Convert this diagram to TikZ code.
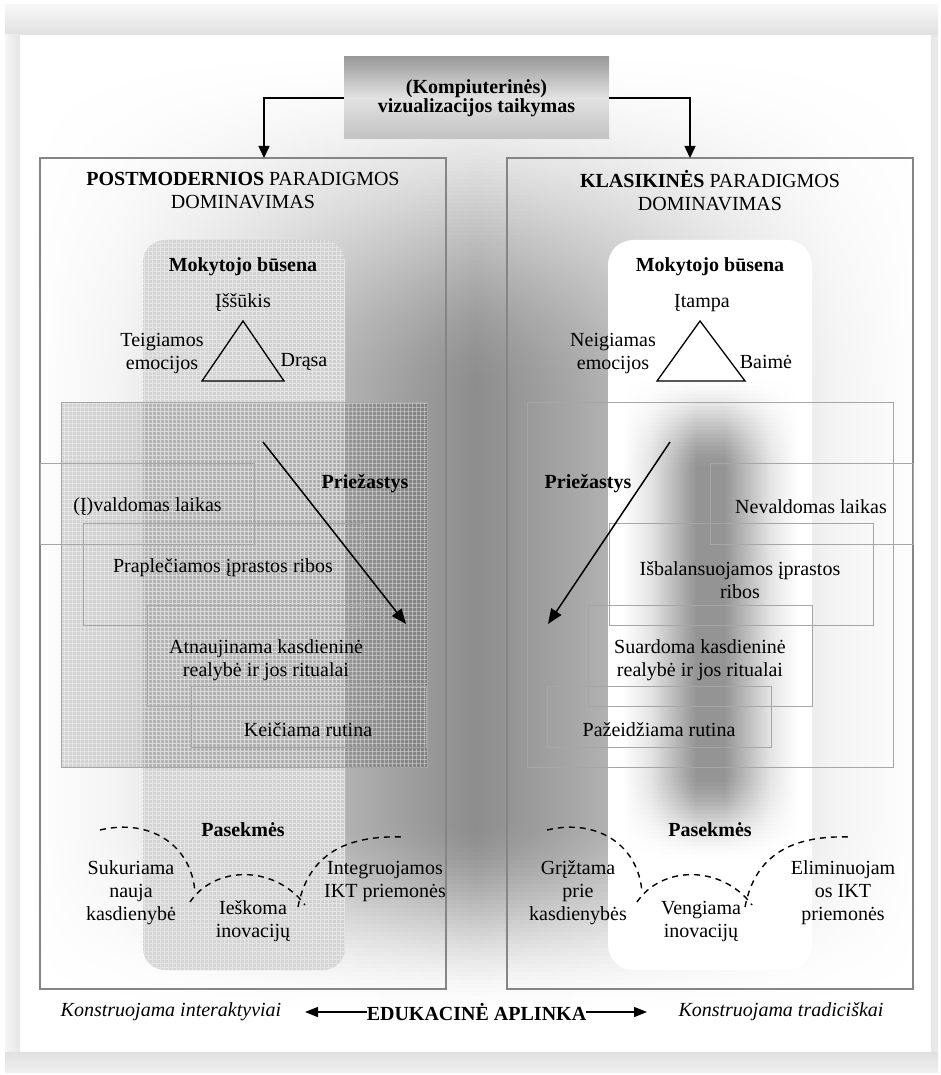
\documentclass[tikz,border=0pt]{standalone}
\usepackage{fontspec}
\setmainfont{Liberation Serif}
\usetikzlibrary{arrows.meta,patterns}

\definecolor{boxgray}{HTML}{858585}
\definecolor{cellgray}{HTML}{A6A6A6}
\definecolor{titletop}{HTML}{9A9A9A}
\definecolor{titlemid}{HTML}{E2E2E2}
\definecolor{titlebot}{HTML}{C2C2C2}
\definecolor{meshbase}{HTML}{D2D2D2}
\definecolor{meshline}{HTML}{E4E4E4}
\colorlet{glowc}{black!45}
\colorlet{colc}{black!45}

% fine square mesh used for the shaded panels
\pgfdeclarepatternformonly{finegrid}{\pgfqpoint{-1pt}{-1pt}}{\pgfqpoint{4pt}{4pt}}{\pgfqpoint{4pt}{4pt}}{%
  \pgfsetlinewidth{0.5pt}%
  \pgfpathmoveto{\pgfqpoint{0pt}{0pt}}\pgfpathlineto{\pgfqpoint{0pt}{4.1pt}}%
  \pgfpathmoveto{\pgfqpoint{0pt}{0pt}}\pgfpathlineto{\pgfqpoint{4.1pt}{0pt}}%
  \pgfusepath{stroke}}

% horizontal glow, dark in the middle and fading to white at both sides
\pgfdeclarehorizontalshading[glowc]{bgglow}{100bp}{color(0bp)=(white); color(25bp)=(white);
  color(30bp)=(glowc!10!white); color(36bp)=(glowc!35!white); color(42bp)=(glowc!65!white);
  color(47bp)=(glowc!88!white); color(50bp)=(glowc); color(53bp)=(glowc!88!white);
  color(58bp)=(glowc!65!white); color(64bp)=(glowc!35!white); color(70bp)=(glowc!10!white);
  color(75bp)=(white); color(100bp)=(white)}
% soft vertical column
\pgfdeclarehorizontalshading[colc]{colglow}{100bp}{color(0bp)=(white); color(25bp)=(white);
  color(33bp)=(colc!25!white); color(40bp)=(colc!65!white); color(46bp)=(colc);
  color(54bp)=(colc); color(60bp)=(colc!65!white); color(67bp)=(colc!25!white);
  color(75bp)=(white); color(100bp)=(white)}

\tikzset{
  txt/.style={font=\fontsize{20}{23}\selectfont, align=center, inner sep=0pt},
  boldtxt/.style={txt, font=\fontsize{20}{23}\selectfont\bfseries},
  ittxt/.style={txt, font=\fontsize{20}{23}\selectfont\itshape},
  titlebox/.style={top color=titletop, bottom color=titlebot, middle color=titlemid,
    font=\fontsize{20}{19}\selectfont\bfseries, align=center, inner sep=0pt,
    minimum width=265pt, minimum height=82pt},
  bigbox/.style={draw=boxgray, line width=1.3pt, inner sep=0pt},
  cellbox/.style={draw=cellgray, line width=0.9pt},
  toparrow/.style={line width=1.5pt, -{Triangle[length=12pt,width=11pt]}},
  causearrow/.style={line width=1.5pt, -{Triangle[length=15pt,width=12pt]}},
  envarrow/.style={line width=1.5pt, -{Triangle[length=13pt,width=10pt]}},
  dasharc/.style={line width=1.4pt, dash pattern=on 6pt off 5pt},
  tri/.style={draw, line width=1.3pt, line join=miter},
}

\begin{document}
\begin{tikzpicture}[x=1pt,y=-1pt]
\useasboundingbox (0,0) rectangle (941,1075);
\fill[white] (0,0) rectangle (941,1075);

% page frame with soft grey border
\fill[black!9] (5,5) rectangle (938,1072);
\shade[top color=black!3, bottom color=black!12] (5,5) rectangle (938,35);
\shade[left color=black!4, right color=black!10] (5,35) rectangle (20,1052);
\shade[top color=black!12, bottom color=black!6] (5,1052) rectangle (938,1072);
\fill[white] (20,35) rectangle (931,1052);

% grey glow behind the two panels
\foreach \y in {40,44,...,1016} {
  \pgfmathsetmacro\t{max(0,min(1,(\y-40)/360,(1016-\y)/200))}
  \pgfmathsetmacro\p{100*\t*\t*(3-2*\t)*0.45}
  \colorlet{glowc}{black!\p}
  \shade[shading=bgglow] (28,\y) rectangle (924,\y+4.3);
}

% title and the two branches
\node[titlebox] (title) at (476.5,98) {(Kompiuterinės)\\vizualizacijos taikymas};
\node[bigbox, minimum width=406pt, minimum height=831pt] (lbox) at (243,573.5) {};
\node[bigbox, minimum width=406pt, minimum height=831pt] (rbox) at (710,573.5) {};
\coordinate (lin) at (264,158);
\coordinate (rin) at (690,158);
\draw[toparrow] (title.west) -| (lin);
\draw[toparrow] (title.east) -| (rin);

% ---------- left panel ----------
\fill[meshbase, opacity=0.9, rounded corners=22pt] (143,240) rectangle (345,970);
\fill[pattern=finegrid, pattern color=meshline, rounded corners=22pt] (143,240) rectangle (345,970);
\fill[black, opacity=0.15] (61,402) rectangle (427,767);
\fill[pattern=finegrid, pattern color=white, opacity=0.35] (61,402) rectangle (427,767);
\draw[cellbox] (61,402) rectangle (427,767);
\draw[cellbox] (40,463) rectangle (254,544);
\draw[cellbox] (83,523) rectangle (362,625);
\draw[cellbox] (147,605) rectangle (383,706);
\draw[cellbox] (191,686) rectangle (426,747);

\node[txt] (lhead) at (243,191) {\textbf{POSTMODERNIOS} PARADIGMOS\\DOMINAVIMAS};
\node[boldtxt] (lstate) at (243,267) {Mokytojo būsena};
\node[txt] (ltop) at (243,303) {Įššūkis};
\draw[tri] (243,321) -- (202,381) -- (284,381) -- cycle;
\node[txt] (lleft) at (162,353.5) {Teigiamos\\emocijos};
\node[txt] (lright) at (304,362) {Drąsa};

\node[boldtxt] (lcause) at (365,484) {Priežastys};
\node[txt] (lc1) at (147.5,507) {(Į)valdomas laikas};
\node[txt] (lc2) at (223,568) {Praplečiamos įprastos ribos};
\node[txt] (lc3) at (266,660.5) {Atnaujinama kasdieninė\\realybė ir jos ritualai};
\node[txt] (lc4) at (308,730) {Keičiama rutina};
\coordinate (lcs) at (263,442);
\coordinate (lce) at (406,624);
\draw[causearrow] (lcs) -- (lce);

\node[boldtxt] (lres) at (243,830) {Pasekmės};
\node[txt] (lr1) at (131,893) {Sukuriama\\nauja\\kasdienybė};
\node[txt] (lr2) at (253,921.5) {Ieškoma\\inovacijų};
\node[txt] (lr3) at (385,881) {Integruojamos\\IKT priemonės};
\coordinate (la1) at (100,830); \coordinate (lb1) at (195,893);
\coordinate (la2) at (190,902); \coordinate (lb2) at (305,905);
\coordinate (la3) at (298,907); \coordinate (lb3) at (403,837);
\draw[dasharc] (la1) .. controls (150,818) and (192,845) .. (lb1);
\draw[dasharc] (la2) .. controls (215,865) and (275,865) .. (lb2);
\draw[dasharc] (la3) .. controls (308,855) and (345,835) .. (lb3);

% ---------- right panel ----------
\fill[white, rounded corners=25pt] (608,240) rectangle (812,970);
\foreach \y in {370,374,...,856} {
  \pgfmathsetmacro\t{max(0,min(1,(\y-370)/100,(860-\y)/90))}
  \pgfmathsetmacro\p{100*\t*\t*(3-2*\t)*0.42}
  \colorlet{colc}{black!\p}
  \shade[shading=colglow] (622,\y) rectangle (798,\y+4.3);
}
\draw[cellbox] (527,402) rectangle (893,767);
\draw[cellbox] (710,463) rectangle (913,544);
\draw[cellbox] (609,523) rectangle (873,625);
\draw[cellbox] (588,605) rectangle (812,706);
\draw[cellbox] (547,686) rectangle (771,747);

\node[txt] (rhead) at (710,191) {\textbf{KLASIKINĖS} PARADIGMOS\\DOMINAVIMAS};
\node[boldtxt] (rstate) at (710,267) {Mokytojo būsena};
\node[txt] (rtop) at (702,303) {Įtampa};
\draw[tri] (700,321) -- (657,381) -- (745,381) -- cycle;
\node[txt] (rleft) at (613,353.5) {Neigiamas\\emocijos};
\node[txt] (rright) at (766,362) {Baimė};

\node[boldtxt] (rcause) at (588,484) {Priežastys};
\node[txt] (rc1) at (811,507) {Nevaldomas laikas};
\node[txt] (rc2) at (740,580) {Išbalansuojamos įprastos\\ribos};
\node[txt] (rc3) at (700,660.5) {Suardoma kasdieninė\\realybė ir jos ritualai};
\node[txt] (rc4) at (659,730) {Pažeidžiama rutina};
\coordinate (rcs) at (670,442);
\coordinate (rce) at (548,624);
\draw[causearrow] (rcs) -- (rce);

\node[boldtxt] (rres) at (710,830) {Pasekmės};
\node[txt] (rr1) at (578,893) {Grįžtama\\prie\\kasdienybės};
\node[txt] (rr2) at (701,921.5) {Vengiama\\inovacijų};
\node[txt] (rr3) at (843,893) {Eliminuojam\\os IKT\\priemonės};
\coordinate (ra1) at (547,830); \coordinate (rb1) at (642,893);
\coordinate (ra2) at (637,902); \coordinate (rb2) at (752,905);
\coordinate (ra3) at (745,907); \coordinate (rb3) at (850,837);
\draw[dasharc] (ra1) .. controls (597,818) and (639,845) .. (rb1);
\draw[dasharc] (ra2) .. controls (662,865) and (722,865) .. (rb2);
\draw[dasharc] (ra3) .. controls (755,855) and (792,835) .. (rb3);

% ---------- educational environment ----------
\node[ittxt] (envl) at (171,1012) {Konstruojama interaktyviai};
\node[boldtxt] (env) at (476.5,1012) {EDUKACINĖ APLINKA};
\node[ittxt] (envr) at (781,1012) {Konstruojama tradiciškai};
\coordinate (envltip) at (305,1009);
\coordinate (envrtip) at (647,1009);
\draw[envarrow] (env.west) -- (env.west -| envltip);
\draw[envarrow] (env.east) -- (env.east -| envrtip);
\end{tikzpicture}
\end{document}
